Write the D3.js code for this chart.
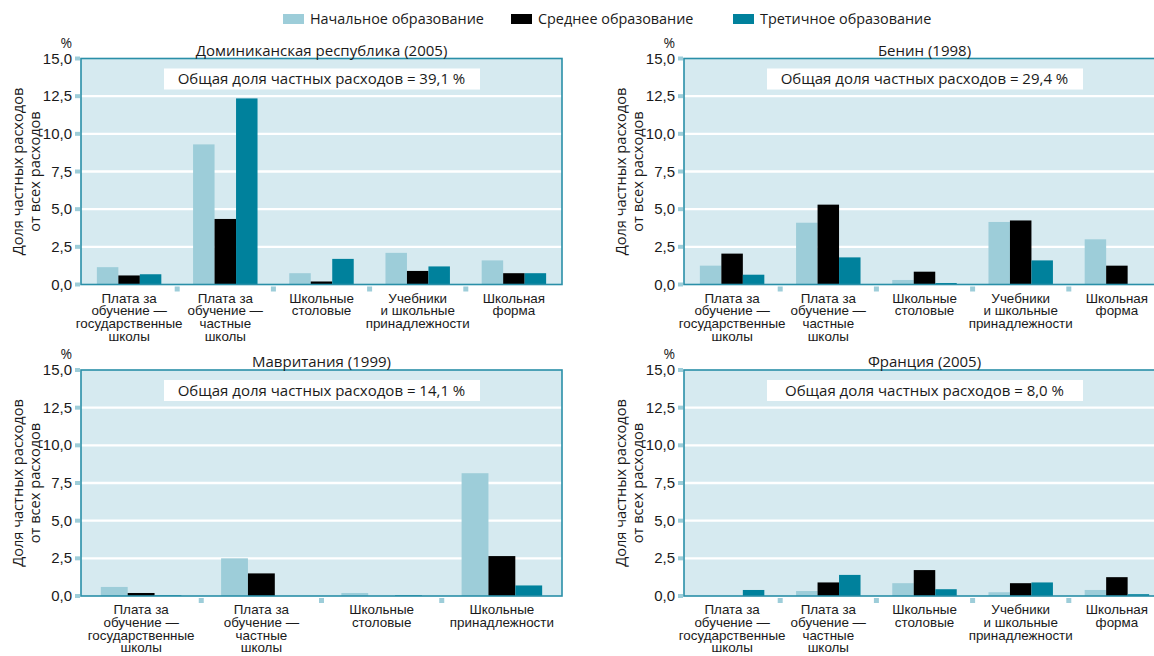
<!DOCTYPE html>
<html>
<head>
<meta charset="utf-8">
<script src="https://d3js.org/d3.v7.min.js"></script>
<style>
  body { margin: 0; background: #fff; font-family: "Open Sans", "Noto Sans", sans-serif; }
  svg text { fill: #1a1a1a; }
</style>
</head>
<body>
<div id="chart"></div>
<script>
const seriesNames = ["Начальное образование", "Среднее образование", "Третичное образование"];
const seriesColors = ["#9dcdd9", "#000000", "#00819c"];

const categories5 = [
  "Плата за\nобучение —\nгосударственные\nшколы",
  "Плата за\nобучение —\nчастные\nшколы",
  "Школьные\nстоловые",
  "Учебники\nи школьные\nпринадлежности",
  "Школьная\nформа"
];
const categories4 = [
  "Плата за\nобучение —\nгосударственные\nшколы",
  "Плата за\nобучение —\nчастные\nшколы",
  "Школьные\nстоловые",
  "Школьные\nпринадлежности"
];

const yTicks = [0, 2.5, 5, 7.5, 10, 12.5, 15];

// Доминиканская республика (2005)
const domPrimary   = [1.15, 9.3, 0.75, 2.1, 1.6];
const domSecondary = [0.6, 4.35, 0.2, 0.9, 0.75];
const domTertiary  = [0.68, 12.35, 1.7, 1.2, 0.75];

// Бенин (1998)
const benPrimary   = [1.25, 4.1, 0.3, 4.15, 3.0];
const benSecondary = [2.05, 5.3, 0.85, 4.25, 1.25];
const benTertiary  = [0.65, 1.8, 0.1, 1.6, 0];

// Мавритания (1999)
const mauPrimary   = [0.6, 2.5, 0.2, 8.15];
const mauSecondary = [0.2, 1.5, 0, 2.65];
const mauTertiary  = [0.05, 0, 0.05, 0.7];

// Франция (2005)
const fraPrimary   = [0, 0.33, 0.85, 0.25, 0.4];
const fraSecondary = [0, 0.9, 1.72, 0.85, 1.25];
const fraTertiary  = [0.4, 1.4, 0.45, 0.9, 0.12];

const panels = [
  { title: "Доминиканская республика (2005)", total: "39,1", cats: categories5,
    series: [domPrimary, domSecondary, domTertiary], left: 81, top: 58.5 },
  { title: "Бенин (1998)", total: "29,4", cats: categories5,
    series: [benPrimary, benSecondary, benTertiary], left: 684, top: 58.5 },
  { title: "Мавритания (1999)", total: "14,1", cats: categories4,
    series: [mauPrimary, mauSecondary, mauTertiary], left: 81, top: 370 },
  { title: "Франция (2005)", total: "8,0", cats: categories5,
    series: [fraPrimary, fraSecondary, fraTertiary], left: 684, top: 370 }
];

const W = 1154, H = 656;
const pw = 481, ph = 226;

const svg = d3.select("#chart").append("svg")
  .attr("width", W).attr("height", H);

// legend
const legendX = [283, 511, 733];
seriesNames.forEach((name, i) => {
  const g = svg.append("g").attr("transform", "translate(" + legendX[i] + ",19)");
  g.append("rect").attr("x", 0).attr("y", -5).attr("width", 21).attr("height", 10)
    .attr("fill", seriesColors[i]);
  g.append("text").attr("x", 27).attr("y", 5).style("font-size", "14.4px").text(name);
});

const fmt = v => d3.format(".1f")(v).replace(".", ",");

panels.forEach(p => {
  const g = svg.append("g").attr("transform", "translate(" + p.left + "," + p.top + ")");

  const y = d3.scaleLinear().domain([0, 15]).range([ph, 0]);
  const x0 = d3.scaleBand().domain(d3.range(p.cats.length)).range([0, pw]);
  const bw = x0.bandwidth();
  const x1 = d3.scaleBand().domain(d3.range(3)).range([bw * 0.165, bw * 0.835]);

  // фон
  g.append("rect").attr("width", pw).attr("height", ph).attr("fill", "#d6eaf0");

  // сетка
  g.selectAll(".grid").data(yTicks.filter(t => t > 0 && t < 15)).enter()
    .append("line")
    .attr("x1", 0).attr("x2", pw)
    .attr("y1", d => y(d)).attr("y2", d => y(d))
    .attr("stroke", "#fff").attr("stroke-width", 2.4);

  // рамка с итогом
  g.append("rect").attr("x", 83).attr("y", 10).attr("width", 316).attr("height", 21)
    .attr("fill", "#fff");
  g.append("text").attr("x", pw / 2).attr("y", 25.5).attr("text-anchor", "middle")
    .style("font-size", "15px")
    .text("Общая доля частных расходов = " + p.total + " %");

  // столбцы
  p.series.forEach((vals, si) => {
    g.selectAll(".bar" + si).data(vals).enter().append("rect")
      .attr("x", (d, i) => x0(i) + x1(si))
      .attr("width", x1.bandwidth())
      .attr("y", d => y(d))
      .attr("height", d => ph - y(d))
      .attr("fill", seriesColors[si]);
  });

  g.append("rect").attr("width", pw).attr("height", ph)
    .attr("fill", "none").attr("stroke", "#2a8fa8").attr("stroke-width", 1.6);

  // ось Y
  const ya = g.append("g").call(d3.axisLeft(y).tickValues(yTicks).tickFormat(fmt)
    .tickSize(0).tickPadding(9));
  ya.select(".domain").remove();
  ya.selectAll("text").style("font-size", "15px").attr("fill", "#1a1a1a").attr("dy", "0.3em");
  g.selectAll(".ytk").data(yTicks).enter().append("rect")
    .attr("x", -6).attr("y", d => y(d) - 2).attr("width", 5).attr("height", 4)
    .attr("fill", "#9dcdd9");

  // разделители категорий
  g.selectAll(".xsep").data(d3.range(1, p.cats.length)).enter().append("rect")
    .attr("x", d => x0(d) - 2.5).attr("y", ph + 2).attr("width", 5).attr("height", 5)
    .attr("fill", "#9dcdd9");

  // подписи категорий
  const xa = g.append("g").attr("transform", "translate(0," + ph + ")")
    .call(d3.axisBottom(x0).tickSize(0).tickFormat(""));
  xa.select(".domain").remove();
  xa.selectAll(".tick").each(function (d) {
    const lines = p.cats[d].split("\n");
    const t = d3.select(this).append("text")
      .attr("text-anchor", "middle").style("font-size", "13.4px").attr("fill", "#1a1a1a");
    lines.forEach((ln, li) => {
      t.append("tspan").attr("x", 0).attr("y", 18 + li * 12.8).text(ln);
    });
  });

  // заголовок
  g.append("text").attr("x", pw / 2).attr("y", -3).attr("text-anchor", "middle")
    .style("font-size", "15px").text(p.title);

  g.append("text").attr("x", -9).attr("y", -11).attr("text-anchor", "end")
    .style("font-size", "14px").text("%");

  // подпись оси Y
  const yt = g.append("text").attr("transform", "translate(-58," + (ph / 2) + ") rotate(-90)")
    .attr("text-anchor", "middle").style("font-size", "14.6px");
  yt.append("tspan").attr("x", 0).attr("y", 0).text("Доля частных расходов");
  yt.append("tspan").attr("x", 0).attr("y", 17).text("от всех расходов");
});
</script>
</body>
</html>
